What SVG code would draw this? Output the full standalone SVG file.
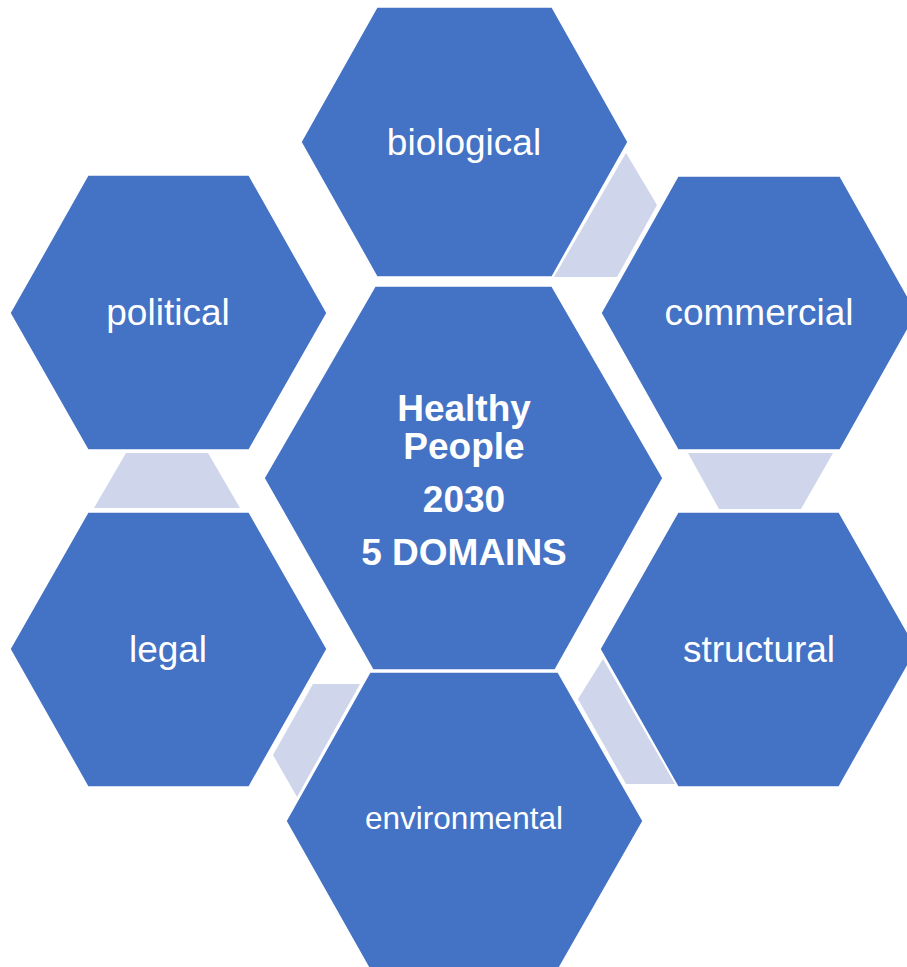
<svg xmlns="http://www.w3.org/2000/svg" width="907" height="967" viewBox="0 0 907 967">
<style>
.hex{fill:#4472C4;stroke:#FFFFFF;stroke-width:1.5}
.con{fill:#CFD5EA;stroke:none}
.lbl{font-family:"Liberation Sans",Arial,sans-serif;fill:#FFFFFF;text-anchor:middle;font-size:37px}
.ctr{font-family:"Liberation Sans",Arial,sans-serif;fill:#FFFFFF;text-anchor:middle;font-size:37px;font-weight:bold}
</style>
<rect width="907" height="967" fill="#FFFFFF"/>
<g id="connectors">
<polygon class="con" points="626,153 657,205 617,277 554,277"/>
<polygon class="con" points="688,453 833,453 801,509 719,509"/>
<polygon class="con" points="603,659 675,784 626,784 578,699"/>
<polygon class="con" points="313,684 360,684 297,797 273,755"/>
<polygon class="con" points="126,453 208,453 240,508 94,508"/>
</g>
<g id="node-biological">
<polygon class="hex" points="377,7 552,7 628,142 552,277 377,277 301,142"/>
<text class="lbl" x="464" y="155">biological</text>
</g>
<g id="node-commercial">
<polygon class="hex" points="678,176 840,176 917,313 840,450 678,450 601,313"/>
<text class="lbl" x="759" y="325">commercial</text>
</g>
<g id="node-structural">
<polygon class="hex" points="678,512 839,512 917,649 839,787 678,787 600,649"/>
<text class="lbl" x="759" y="662">structural</text>
</g>
<g id="node-environmental">
<polygon class="hex" points="370,672 558,672 643,821 558,970 370,970 286,821"/>
<text class="lbl" x="464" y="829" style="font-size:31.5px">environmental</text>
</g>
<g id="node-legal">
<polygon class="hex" points="88,512 249,512 327,649 249,787 88,787 10,649"/>
<text class="lbl" x="168" y="662">legal</text>
</g>
<g id="node-political">
<polygon class="hex" points="88,175 249,175 327,313 249,450 88,450 10,313"/>
<text class="lbl" x="168" y="325">political</text>
</g>
<g id="node-center">
<polygon class="hex" points="375,286 552,286 663,478 555,670 373,670 264,478"/>
<text class="ctr" x="464" y="421">Healthy</text>
<text class="ctr" x="464" y="459">People</text>
<text class="ctr" x="464" y="512">2030</text>
<text class="ctr" x="464" y="565">5 DOMAINS</text>
</g>
</svg>
